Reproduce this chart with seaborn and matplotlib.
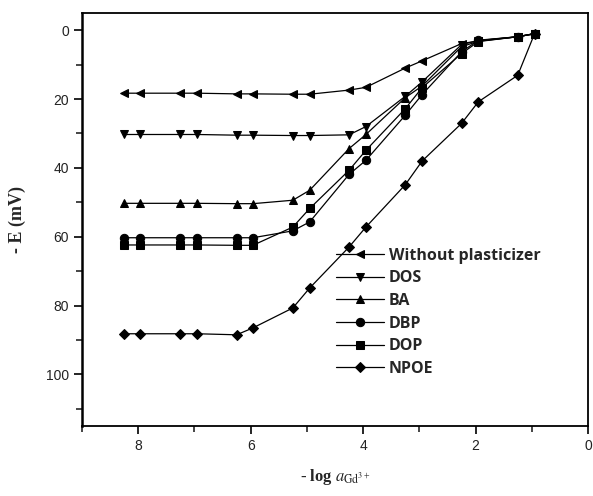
import matplotlib
matplotlib.use("Agg")
import matplotlib.pyplot as plt
import seaborn as sns
import pandas as pd
from matplotlib.ticker import MultipleLocator

sns.set_theme(style="ticks")
plt.rcParams['font.family'] = ['Liberation Sans', 'DejaVu Sans']
plt.rcParams['mathtext.fontset'] = 'stix'

x_vals = [8.25, 7.96, 7.25, 6.95, 6.25, 5.96, 5.25, 4.95, 4.25, 3.95, 3.25, 2.95, 2.25, 1.95, 1.25, 0.95]

without = [18.3, 18.3, 18.3, 18.3, 18.5, 18.5, 18.6, 18.6, 17.4, 16.6, 11.0, 8.9, 3.9, 3.1, 1.9, 1.0]
dos     = [30.3, 30.3, 30.3, 30.3, 30.5, 30.5, 30.6, 30.6, 30.4, 28.0, 19.2, 15.0, 4.2, 3.0, 1.9, 1.0]
ba      = [50.3, 50.3, 50.3, 50.3, 50.4, 50.4, 49.4, 46.5, 34.4, 30.3, 19.6, 16.2, 4.8, 3.2, 1.9, 1.0]
dbp     = [60.3, 60.3, 60.3, 60.3, 60.3, 60.3, 58.3, 55.7, 41.9, 37.8, 24.7, 18.7, 6.3, 2.9, 1.9, 1.0]
dop     = [62.4, 62.4, 62.4, 62.4, 62.5, 62.5, 57.2, 51.8, 40.7, 34.9, 22.8, 16.7, 6.8, 3.3, 1.9, 1.0]
npoe    = [88.2, 88.2, 88.2, 88.2, 88.5, 86.5, 80.7, 74.9, 63.0, 57.2, 44.9, 38.0, 27.1, 20.8, 13.1, 1.0]

names = ["Without plasticizer", "DOS", "BA", "DBP", "DOP", "NPOE"]
series = [without, dos, ba, dbp, dop, npoe]
markers = ['<', 'v', '^', 'o', 's', 'D']

fig = plt.figure(figsize=(5.93, 4.96), dpi=100)
ax = fig.add_axes([82/593, 1-426/496, (588-82)/593, (426-13)/496])

for name, vals, m in zip(names, series, markers):
    df = pd.DataFrame({"x": x_vals, "y": vals})
    sns.lineplot(data=df, x="x", y="y", ax=ax, color='black', linewidth=0.9,
                 marker=m, markersize=6 if m != 'D' else 5.5, markeredgecolor='black',
                 markerfacecolor='black', label=name, sort=False)

ax.set_xlim(9, 0)
ax.set_ylim(115, -5)
ax.xaxis.set_major_locator(MultipleLocator(2))
ax.xaxis.set_minor_locator(MultipleLocator(1))
ax.yaxis.set_major_locator(MultipleLocator(20))
ax.yaxis.set_minor_locator(MultipleLocator(10))
ax.tick_params(axis='both', which='major', direction='out', length=6, width=1.2,
               labelsize=10, colors='black', labelcolor='#222222')
ax.tick_params(axis='both', which='minor', direction='out', length=4, width=1.2)
for s in ax.spines.values():
    s.set_linewidth(1.3)
    s.set_color('black')
ax.spines['left'].set_linewidth(1.8)

ax.set_xlabel(r"- log $\mathit{a}_{\mathrm{Gd^{3+}}}$", family='Liberation Serif',
              fontsize=12, fontweight='bold', labelpad=10)
ax.set_ylabel("- E (mV)", family='Liberation Serif', fontsize=13, fontweight='bold', labelpad=14)

leg = ax.legend(loc='upper left', bbox_to_anchor=(0.474, 0.467), frameon=False,
                handlelength=3.0, handletextpad=0.3, labelspacing=0.42,
                prop={'family': 'Open Sans', 'weight': 'bold', 'size': 11.5})

fig.savefig("out.png", dpi=100)
